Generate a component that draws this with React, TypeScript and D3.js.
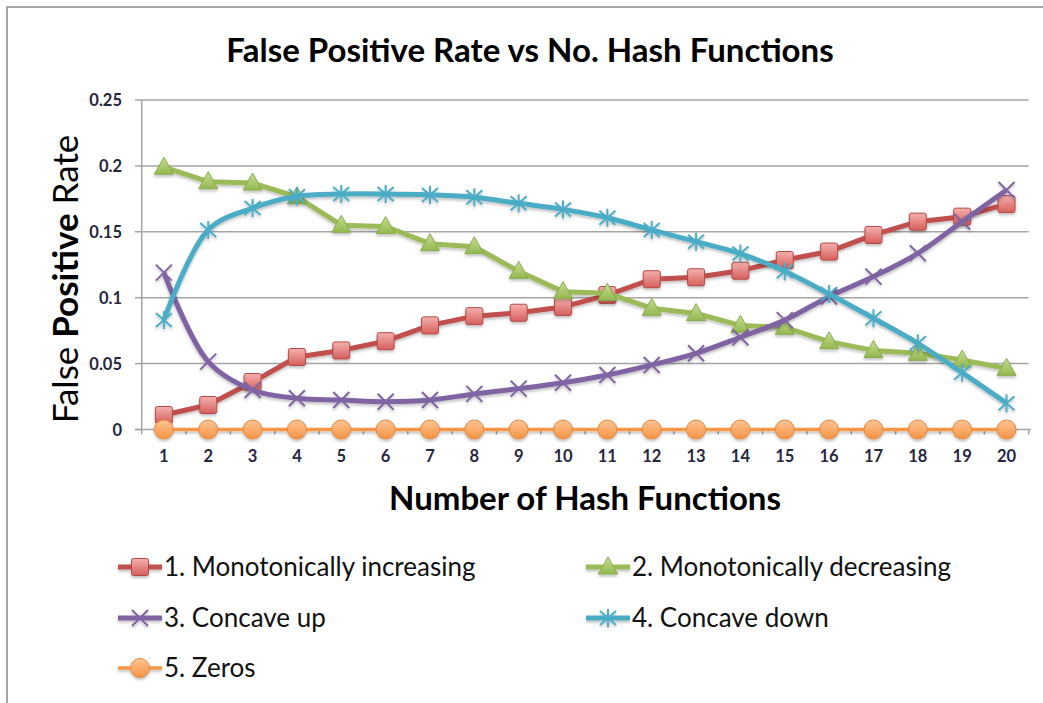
import React from 'react';
import * as d3 from 'd3';

// number of hash functions
const categories = d3.range(1, 21).map(String);
const yTicks = [0, 0.05, 0.1, 0.15, 0.2, 0.25];

const increasing = [0.011, 0.0186, 0.036, 0.055, 0.06, 0.067, 0.079, 0.086, 0.0886, 0.093, 0.102, 0.114, 0.1155, 0.1205, 0.1286, 0.135, 0.1476, 0.1577, 0.1615, 0.171];
const decreasing = [0.199, 0.188, 0.187, 0.1766, 0.155, 0.154, 0.141, 0.1387, 0.12, 0.1046, 0.1033, 0.092, 0.088, 0.079, 0.0775, 0.0666, 0.06, 0.0578, 0.0527, 0.0464];
const concaveUp = [0.119, 0.0515, 0.03, 0.0237, 0.0224, 0.0211, 0.0224, 0.027, 0.031, 0.0355, 0.0413, 0.049, 0.0578, 0.07, 0.083, 0.1008, 0.116, 0.1337, 0.1577, 0.1817];
const concaveDown = [0.083, 0.1514, 0.168, 0.177, 0.1787, 0.1787, 0.178, 0.1762, 0.1716, 0.167, 0.1607, 0.1514, 0.1425, 0.1335, 0.12, 0.1028, 0.0844, 0.0654, 0.0431, 0.0199];
const zeros = categories.map(() => 0);

const series = [
  { name: '1. Monotonically increasing', values: increasing, color: '#C0504D', marker: 'square', smooth: false, width: 5 },
  { name: '2. Monotonically decreasing', values: decreasing, color: '#9BBB59', marker: 'triangle', smooth: false, width: 5 },
  { name: '3. Concave up', values: concaveUp, color: '#8064A2', marker: 'x', smooth: true, width: 5 },
  { name: '4. Concave down', values: concaveDown, color: '#4BACC6', marker: 'star', smooth: true, width: 5 },
  { name: '5. Zeros', values: zeros, color: '#F79646', marker: 'circle', smooth: false, width: 3.5 },
];

const font = 'Lato, "Open Sans", sans-serif';

const Marker = ({ type, x, y }: { type: string; x: number; y: number }) => {
  const t = `translate(${x},${y})`;
  if (type === 'square')
    return <rect transform={t} x={-8.5} y={-8.5} width={17} height={17} rx={2} fill="url(#gRed)" stroke="#B24A47" strokeWidth={1} />;
  if (type === 'triangle')
    return <path transform={t} d="M0,-10L9.5,7L-9.5,7Z" fill="url(#gGreen)" stroke="#89AC4E" strokeWidth={1} />;
  if (type === 'circle')
    return <circle transform={t} r={9.5} fill="url(#gOrange)" stroke="#E5883F" strokeWidth={1} />;
  if (type === 'x')
    return (
      <g transform={t} stroke="#8064A2" strokeWidth={2}>
        <line x1={-8} y1={-8} x2={8} y2={8} />
        <line x1={-8} y1={8} x2={8} y2={-8} />
      </g>
    );
  return (
    <g transform={t} stroke="#4BACC6" strokeWidth={2}>
      <line x1={-8} y1={-7} x2={8} y2={7} />
      <line x1={-8} y1={7} x2={8} y2={-7} />
      <line x1={0} y1={-9} x2={0} y2={9} />
    </g>
  );
};

export default function App() {
  const x = d3.scaleBand().domain(categories).range([141.7, 1028.7]).padding(0);
  const y = d3.scaleLinear().domain([0, 0.25]).range([429.5, 100]);
  const cx = (c: string) => (x(c) as number) + x.bandwidth() / 2;

  const legendPos = [
    [118, 567], [586, 567], [118, 618], [586, 618], [118, 668],
  ];

  return (
    <svg width={1043} height={703} style={{ position: 'absolute', left: 0, top: 0 }} fontFamily={font}>
      <defs>
        <linearGradient id="gRed" x1="0" y1="0" x2="0" y2="1">
          <stop offset="0" stopColor="#F4B0AE" />
          <stop offset="1" stopColor="#D65F5C" />
        </linearGradient>
        <linearGradient id="gGreen" x1="0" y1="0" x2="0" y2="1">
          <stop offset="0" stopColor="#C6DF93" />
          <stop offset="1" stopColor="#93B84F" />
        </linearGradient>
        <linearGradient id="gOrange" x1="0" y1="0" x2="0" y2="1">
          <stop offset="0" stopColor="#FCC596" />
          <stop offset="1" stopColor="#F59342" />
        </linearGradient>
        <filter id="shadow" x="-10%" y="-10%" width="120%" height="130%">
          <feDropShadow dx="0" dy="2" stdDeviation="1.5" floodColor="#000" floodOpacity="0.25" />
        </filter>
      </defs>
      <rect x={0} y={0} width={1043} height={703} fill="#fff" />
      <rect x={7} y={7} width={1100} height={760} fill="#fff" stroke="#A6A6A6" strokeWidth={2} />

      <text x={530} y={62} textAnchor="middle" fontSize={33} fontWeight={700} fill="#000">
        False Positive Rate vs No. Hash Functions
      </text>

      {/* grid + y axis */}
      {yTicks.map((t) => (
        <g key={t}>
          {t > 0 && <line x1={141.7} x2={1028.7} y1={y(t)} y2={y(t)} stroke="#A5A5A5" strokeWidth={1.5} />}
          <line x1={135} x2={141.7} y1={y(t)} y2={y(t)} stroke="#A5A5A5" strokeWidth={1.5} />
          <text x={122} y={y(t) + 6} textAnchor="end" fontSize={16.5} fontWeight={700} fill="#262640">
            {String(t)}
          </text>
        </g>
      ))}
      <line x1={141.7} x2={141.7} y1={y(0.25)} y2={y(0) + 1} stroke="#A5A5A5" strokeWidth={1.5} />
      <line x1={135} x2={1031} y1={y(0)} y2={y(0)} stroke="#A5A5A5" strokeWidth={1.5} />
      {categories.concat(['end']).map((c, i) => {
        const px = 141.7 + i * x.bandwidth();
        return <line key={c} x1={px} x2={px} y1={y(0)} y2={y(0) + 5} stroke="#A5A5A5" strokeWidth={1.5} />;
      })}
      {categories.map((c) => (
        <text key={c} x={cx(c)} y={462} textAnchor="middle" fontSize={16.5} fontWeight={700} fill="#262640">
          {c}
        </text>
      ))}

      <text x={585} y={510} textAnchor="middle" fontSize={33} fontWeight={700} fill="#000">
        Number of Hash Functions
      </text>
      <text transform="translate(78,279) rotate(-90)" textAnchor="middle" fontSize={35} fill="#000">
        <tspan>False </tspan>
        <tspan fontWeight={700}>Positive</tspan>
        <tspan> Rate</tspan>
      </text>

      {/* series */}
      {series.map((s) => {
        const line = d3
          .line<number>()
          .x((_, i) => cx(categories[i]))
          .y((v) => y(v))
          .curve(s.smooth ? d3.curveCatmullRom.alpha(0.5) : d3.curveLinear);
        return (
          <g key={s.name} filter="url(#shadow)">
            <path d={line(s.values) as string} fill="none" stroke={s.color} strokeWidth={s.width} strokeLinejoin="round" />
            {s.values.map((v, i) => (
              <Marker key={i} type={s.marker} x={cx(categories[i])} y={y(v)} />
            ))}
          </g>
        );
      })}

      {/* legend */}
      {series.map((s, i) => {
        const [lx, ly] = legendPos[i];
        return (
          <g key={s.name}>
            <g filter="url(#shadow)">
              <line x1={lx} x2={lx + 44} y1={ly} y2={ly} stroke={s.color} strokeWidth={s.width} />
              <Marker type={s.marker} x={lx + 22} y={ly} />
            </g>
            <text x={lx + 46} y={ly + 9} fontSize={26} fill="#111">
              {s.name}
            </text>
          </g>
        );
      })}
    </svg>
  );
}
